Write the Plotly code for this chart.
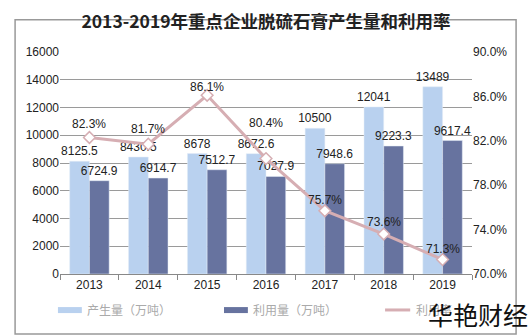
import plotly.graph_objects as go

years = ["2013", "2014", "2015", "2016", "2017", "2018", "2019"]
produced = [8125.5, 8430.5, 8678, 8672.6, 10500, 12041, 13489]
utilized = [6724.9, 6914.7, 7512.7, 7027.9, 7948.6, 9223.3, 9617.4]
rate = [82.3, 81.7, 86.1, 80.4, 75.7, 73.6, 71.3]
names = ["产生量（万吨）", "利用量（万吨）", "利用率"]

# label offsets (pixels above each rate marker), as placed in the original
rate_label_shift = [13, 15, 8, 36, 11, 12, 11]

C_PROD = "#b9d1ef"
C_UTIL = "#67739f"
C_RATE = "#d6aeb3"

fig = go.Figure()
fig.add_trace(go.Bar(
    x=years, y=produced, name=names[0],
    marker_color=C_PROD,
    text=[f"{v:g}" for v in produced], textposition="outside", constraintext="none",
    textfont=dict(size=12, color="#222"), cliponaxis=False,
))
fig.add_trace(go.Bar(
    x=years, y=utilized, name=names[1],
    marker_color=C_UTIL,
    text=[f"{v:g}" for v in utilized], textposition="outside", constraintext="none",
    textfont=dict(size=12, color="#222"), cliponaxis=False,
))
fig.add_trace(go.Scatter(
    x=years, y=rate, name=names[2], yaxis="y2", mode="lines+markers",
    line=dict(color=C_RATE, width=3),
    marker=dict(symbol="diamond", size=9, color="white", line=dict(color=C_RATE, width=1.5)),
    cliponaxis=False,
))
for i, (v, sh) in enumerate(zip(rate, rate_label_shift)):
    fig.add_annotation(x=i, y=v, xref="x", yref="y2", text=f"{v:.1f}%",
                       showarrow=False, yshift=sh, xanchor="center", yanchor="middle",
                       font=dict(size=12, color="#222"))

fig.update_layout(
    width=532, height=335,
    margin=dict(l=60, r=60, t=52, b=61),
    paper_bgcolor="white", plot_bgcolor="white",
    font=dict(family="Liberation Sans, Arial, sans-serif", size=12, color="#222"),
    title=dict(text="<b>2013-2019年重点企业脱硫石膏产生量和利用率</b>",
               x=0.5, xanchor="center", y=0.935, yanchor="middle",
               font=dict(family="Noto Sans CJK SC", size=17.5, color="#222")),
    barmode="group", bargap=0.33, bargroupgap=0,
    xaxis=dict(type="category", range=[-0.5, len(years) - 0.5], showgrid=False,
               ticks="outside", tickson="boundaries",
               ticklen=5, tickcolor="#888", showline=True, linecolor="#888",
               tickfont=dict(size=12, color="#222")),
    yaxis=dict(range=[0, 16000], dtick=2000, tickformat="d", showgrid=True, gridcolor="#9a9a9a",
               gridwidth=1, zeroline=False, showline=False, tickfont=dict(size=12, color="#222"),
               ticks=""),
    yaxis2=dict(range=[70, 90], tick0=70, dtick=4, overlaying="y", side="right", showgrid=False,
                zeroline=False, tickformat=".1f", ticksuffix="%",
                tickfont=dict(size=12, color="#222")),
    showlegend=False,
)

# manual legend (Excel style)
ly0, ly1, lyc = -0.149, -0.176, -0.162
fig.add_shape(type="rect", xref="paper", yref="paper", x0=-0.005, x1=0.053, y0=ly1, y1=ly0,
              fillcolor=C_PROD, line_width=0)
fig.add_shape(type="rect", xref="paper", yref="paper", x0=0.398, x1=0.456, y0=ly1, y1=ly0,
              fillcolor=C_UTIL, line_width=0)
fig.add_shape(type="line", xref="paper", yref="paper", x0=0.789, x1=0.85, y0=lyc, y1=lyc,
              line=dict(color=C_RATE, width=3))
for xp, nm in zip([0.061, 0.464, 0.859], names):
    fig.add_annotation(text=nm, xref="paper", yref="paper", x=xp, y=lyc,
                       xanchor="left", yanchor="middle", showarrow=False,
                       font=dict(family="Noto Sans CJK SC", size=12, color="#aaa"))

fig.add_shape(type="rect", xref="paper", yref="paper",
              x0=-0.109, x1=1.107, y0=-0.27, y1=1.145,
              line=dict(color="#999", width=1.5), fillcolor="rgba(0,0,0,0)")

fig.add_annotation(text="华艳财经", xref="paper", yref="paper", x=1.14, y=-0.27,
                   xanchor="right", yanchor="bottom", showarrow=False,
                   font=dict(family="Noto Sans CJK SC", size=25, color="#111"))

fig.write_html("out.html")
